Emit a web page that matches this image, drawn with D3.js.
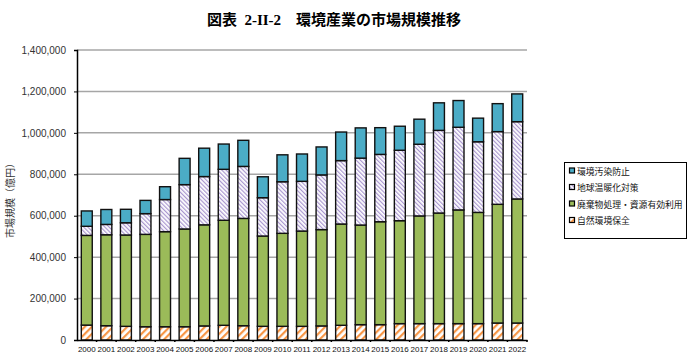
<!DOCTYPE html>
<html><head><meta charset="utf-8">
<script src="https://cdn.jsdelivr.net/npm/d3@7"></script>
<style>
body{margin:0;background:#fff;}
svg{display:block;}
</style></head>
<body>
<svg id="c" width="698" height="355"></svg>
<script>
const years = ["2000","2001","2002","2003","2004","2005","2006","2007","2008","2009","2010","2011","2012","2013","2014","2015","2016","2017","2018","2019","2020","2021","2022"];
const nature    = [72000,69000,66000,64000,64000,64000,68000,71000,69000,66000,66000,66000,68000,71000,74000,74000,79000,79000,79000,79000,79000,82000,82000];
const waste     = [433000,439000,441000,446000,459000,472000,488000,507000,518000,436000,449000,460000,465000,489000,481000,497000,497000,520000,534000,549000,537000,573000,599000];
const climate   = [44000,50000,59000,100000,155000,214000,233000,246000,251000,185000,249000,240000,264000,306000,323000,325000,340000,346000,399000,399000,341000,351000,373000];
const pollution = [74000,72000,65000,64000,62000,127000,137000,122000,126000,101000,130000,132000,135000,138000,146000,129000,116000,121000,133000,129000,114000,135000,134000];
const yTicks = [0,200000,400000,600000,800000,1000000,1200000,1400000];
const seriesNames = ["自然環境保全","廃棄物処理・資源有効利用","地球温暖化対策","環境汚染防止"];
const legendOrder = ["環境汚染防止","地球温暖化対策","廃棄物処理・資源有効利用","自然環境保全"];

const svg = d3.select("#c");
const defs = svg.append("defs");
// orange hatch
const po = defs.append("pattern").attr("id","pOrange").attr("patternUnits","userSpaceOnUse")
  .attr("width",5).attr("height",5).attr("patternTransform","rotate(45)");
po.append("rect").attr("width",5).attr("height",5).attr("fill","#fff");
po.append("rect").attr("x",0).attr("width",2.2).attr("height",5).attr("fill","#F79646");
// purple hatch
const pp = defs.append("pattern").attr("id","pPurple").attr("patternUnits","userSpaceOnUse")
  .attr("width",3).attr("height",3).attr("patternTransform","rotate(-45)");
pp.append("rect").attr("width",3).attr("height",3).attr("fill","#fff");
pp.append("rect").attr("x",0).attr("width",1.2).attr("height",3).attr("fill","#A996CF");

const fills = ["url(#pOrange)","#9BBB59","url(#pPurple)","#4BACC6"];
const colorByName = {};
seriesNames.forEach((n,i)=>colorByName[n]=fills[i]);

const m = {l:77, r:527, t:50, b:340};
const x = d3.scaleBand().domain(years).range([m.l,m.r]).paddingInner(0.44).paddingOuter(0.22);
const y = d3.scaleLinear().domain([0,1400000]).range([m.b,m.t]);

// title
svg.append("text").attr("x",334).attr("y",25).attr("text-anchor","middle")
  .attr("font-family","'Liberation Serif','Noto Sans CJK JP',serif").attr("font-weight","bold")
  .attr("font-size",15).attr("fill","#000")
  .text("図表\u00A0\u00A02-II-2\u3000環境産業の市場規模推移");

// grid
svg.append("g").selectAll("line").data(yTicks.filter(d=>d>0)).join("line")
  .attr("x1",m.l).attr("x2",m.r).attr("y1",d=>y(d)).attr("y2",d=>y(d))
  .attr("stroke","#A6A6A6").attr("stroke-width",1.5);

// y axis
const ya = svg.append("g").attr("transform",`translate(${m.l},0)`)
  .call(d3.axisLeft(y).tickValues(yTicks).tickFormat(d3.format(",")).tickSize(3).tickPadding(8));
ya.select(".domain").attr("stroke","#000").attr("stroke-width",1.5);
ya.selectAll(".tick line").attr("stroke","#000");
ya.selectAll("text").attr("font-family","'Liberation Sans',Arial,sans-serif").attr("font-size",10).attr("fill","#333");

svg.append("text").attr("transform","translate(14,198) rotate(-90)").attr("text-anchor","middle")
  .attr("font-family","'Noto Sans CJK JP',sans-serif").attr("font-size",10).attr("fill","#333")
  .text("市場規模（億円）");

// stacked bars
const table = years.map((yr,i)=>({year:yr,"自然環境保全":nature[i],"廃棄物処理・資源有効利用":waste[i],"地球温暖化対策":climate[i],"環境汚染防止":pollution[i]}));
const stack = d3.stack().keys(seriesNames)(table);
svg.append("g").selectAll("g").data(stack).join("g")
  .attr("fill",(d,i)=>fills[i])
  .selectAll("rect").data(d=>d).join("rect")
  .attr("x",d=>x(d.data.year)).attr("width",x.bandwidth())
  .attr("y",d=>y(d[1])).attr("height",d=>y(d[0])-y(d[1]))
  .attr("stroke","#111").attr("stroke-width",1.4);

// x axis
const xa = svg.append("g").attr("transform",`translate(0,${m.b})`)
  .call(d3.axisBottom(x).tickSize(0).tickPadding(6));
xa.select(".domain").attr("stroke","#000").attr("stroke-width",1.5);
xa.selectAll("text").attr("font-family","'Liberation Sans',Arial,sans-serif").attr("font-size",8).attr("fill","#111");
// small category separators
const step = x.step();
svg.append("g").selectAll("line").data(years).join("line")
  .attr("x1",d=>x(d) + x.bandwidth() + (step - x.bandwidth())/2)
  .attr("x2",d=>x(d) + x.bandwidth() + (step - x.bandwidth())/2)
  .attr("y1",m.b).attr("y2",m.b+2)
  .attr("stroke","#000").attr("stroke-width",1.5);

// legend
const lg = svg.append("g");
lg.append("rect").attr("x",564.5).attr("y",162.5).attr("width",122).attr("height",76)
  .attr("fill","#fff").attr("stroke","#000").attr("stroke-width",1);
legendOrder.forEach((n,i)=>{
  const yy = 171 + i*16.5;
  lg.append("rect").attr("x",569.5).attr("y",yy-3).attr("width",5).attr("height",5)
    .attr("fill",colorByName[n]).attr("stroke","#000").attr("stroke-width",1.2);
  lg.append("text").attr("x",577).attr("y",yy+3.5)
    .attr("font-family","'Noto Sans CJK JP',sans-serif").attr("font-size",8.8).attr("fill","#111").text(n);
});
</script>
</body></html>
